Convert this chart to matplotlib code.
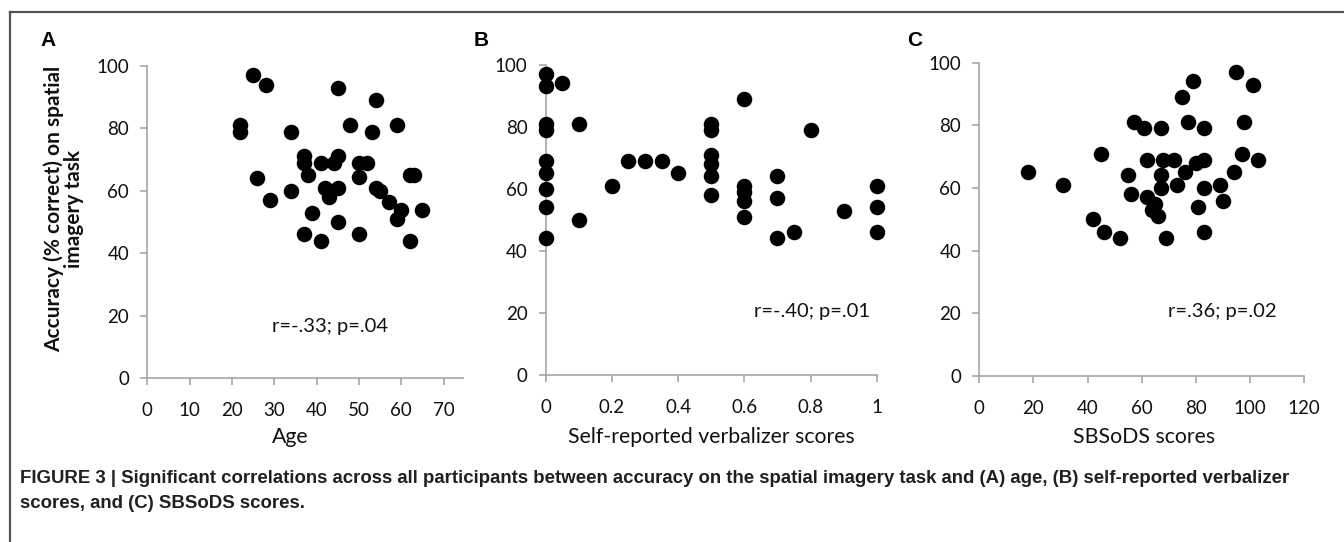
import matplotlib

matplotlib.use("Agg")
import matplotlib.pyplot as plt
from matplotlib.lines import Line2D

plt.rcParams["font.family"] = ["Lato", "DejaVu Sans"]

# panel A: age vs accuracy
age = [25, 28, 45, 54, 22, 22, 34, 48, 53, 59,
       37, 37, 41, 44, 45, 50, 52, 38, 26, 50,
       62, 63, 34, 42, 45, 43, 54, 55, 29, 57,
       60, 59, 65, 39, 45, 37, 41, 50, 62]
acc_age = [97, 94, 93, 89, 81, 79, 79, 81, 79, 81,
           71, 69, 69, 69, 71, 69, 69, 65, 64, 64.5,
           65, 65, 60, 61, 61, 58, 61, 60, 57, 56.5,
           54, 51, 54, 53, 50, 46, 44, 46, 44]

# panel B: self-reported verbalizer scores vs accuracy
verb = [0, 0, 0.05, 0, 0, 0.1, 0, 0, 0, 0, 0, 0.1,
        0.2, 0.25, 0.3, 0.35, 0.4,
        0.5, 0.5, 0.5, 0.5, 0.5, 0.5,
        0.6, 0.6, 0.6, 0.6, 0.6,
        0.7, 0.7, 0.7, 0.75, 0.8, 0.9, 1, 1, 1]
acc_verb = [97, 93, 94, 81, 79, 81, 69, 65, 60, 54, 44, 50,
            61, 69, 69, 69, 65,
            81, 79, 71, 68, 64, 58,
            89, 61, 59, 56, 51,
            64, 57, 44, 46, 79, 53, 61, 54, 46]

# panel C: SBSoDS scores vs accuracy
sbsods = [18, 31, 42, 46, 52, 45, 57, 61, 67, 75,
          79, 77, 83, 95, 101, 98, 97, 103, 94, 62,
          68, 72, 80, 83, 55, 67, 76, 73, 67, 83,
          89, 90, 56, 62, 65, 64, 66, 81, 83, 69]
acc_sbsods = [65, 61, 50, 46, 44, 71, 81, 79, 79, 89,
              94, 81, 79, 97, 93, 81, 71, 69, 65, 69,
              69, 69, 68, 69, 64, 64, 65, 61, 60, 60,
              61, 56, 58, 57, 55, 53, 51, 54, 46, 44]

panel_letters = ["A", "B", "C"]
x_labels = ["Age", "Self-reported verbalizer scores", "SBSoDS scores"]
stats_text = ["r=-.33; p=.04", "r=-.40; p=.01", "r=.36; p=.02"]
y_label = "Accuracy (% correct) on spatial\nimagery task"
caption = ("FIGURE 3 | Significant correlations across all participants between accuracy "
           "on the spatial imagery task and (A) age, (B) self-reported verbalizer\n"
           "scores, and (C) SBSoDS scores.")

W, H = 1344, 542
fig = plt.figure(figsize=(W / 100, H / 100), dpi=100)


def px_box(x0, x1, y_top, y_bot):
    return [x0 / W, 1 - y_bot / H, (x1 - x0) / W, (y_bot - y_top) / H]


panels = [
    dict(box=px_box(147.3, 463, 66, 378), xlim=(0, 74.6), xticks=range(0, 71, 10),
         xt=[str(v) for v in range(0, 71, 10)], x=age, y=acc_age, stat_at=(43.2, 16.4)),
    dict(box=px_box(545.7, 876.7, 64.7, 375), xlim=(0, 1), xticks=[0, 0.2, 0.4, 0.6, 0.8, 1],
         xt=["0", "0.2", "0.4", "0.6", "0.8", "1"], x=verb, y=acc_verb, stat_at=(0.806, 20.4)),
    dict(box=px_box(979.3, 1304, 62.7, 376), xlim=(0, 120), xticks=range(0, 121, 20),
         xt=[str(v) for v in range(0, 121, 20)], x=sbsods, y=acc_sbsods, stat_at=(89.7, 20.7)),
]

axis_grey = "#a6a6a6"
for i, p in enumerate(panels):
    ax = fig.add_axes(p["box"])
    ax.scatter(p["x"], p["y"], s=125, color="black", linewidths=0, clip_on=False, zorder=3)
    ax.set_xlim(*p["xlim"])
    ax.set_ylim(0, 100)
    ax.set_xticks(list(p["xticks"]))
    ax.set_xticklabels(p["xt"])
    ax.set_yticks(range(0, 101, 20))
    for side in ["top", "right"]:
        ax.spines[side].set_visible(False)
    for side in ["left", "bottom"]:
        ax.spines[side].set_color(axis_grey)
        ax.spines[side].set_linewidth(1.2)
    ax.tick_params(length=5, width=1.2, color=axis_grey, labelsize=13.5,
                   labelcolor="#111111")
    ax.tick_params(axis="x", pad=12)
    ax.tick_params(axis="y", pad=8)
    ax.text(p["stat_at"][0], p["stat_at"][1], stats_text[i], ha="center", va="center",
            fontsize=14.5, color="#111111")
    ax.set_facecolor("none")

# axis titles, panel letters
fig.text(290 / W, 1 - 437 / H, x_labels[0], ha="center", va="center", fontsize=15.3, color="#111111")
fig.text(711 / W, 1 - 437 / H, x_labels[1], ha="center", va="center", fontsize=15.3, color="#111111")
fig.text(1144 / W, 1 - 437 / H, x_labels[2], ha="center", va="center", fontsize=15.3, color="#111111")
fig.text(64 / W, 1 - 209 / H, y_label, ha="center", va="center", rotation=90,
         fontsize=15, fontweight="bold", color="#111111", linespacing=1.0)
for letter, lx in zip(panel_letters, [48, 481, 915]):
    fig.text(lx / W, 1 - 40 / H, letter, ha="center", va="center", fontsize=15,
             fontweight="bold", family="Liberation Sans")

fig.text(20 / W, 1 - 491 / H, caption, ha="left", va="center", fontsize=13.4,
         fontweight="bold", family="Liberation Sans", color="#231f20", linespacing=1.55)

# outer frame (top and left edges)
fig.add_artist(Line2D([10 / W, 1], [1 - 12 / H, 1 - 12 / H], color="#555555", lw=1.6))
fig.add_artist(Line2D([10 / W, 10 / W], [0, 1 - 12 / H], color="#555555", lw=1.6))

fig.savefig("out.png", dpi=100, facecolor="white")
